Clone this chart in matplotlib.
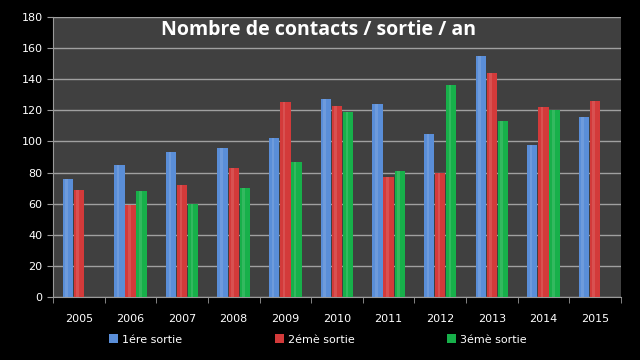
import numpy as np
import matplotlib.pyplot as plt

# données
annees = ['2005', '2006', '2007', '2008', '2009', '2010',
          '2011', '2012', '2013', '2014', '2015']
sortie1 = [76, 85, 93, 96, 102, 127, 124, 105, 155, 98, 116]
sortie2 = [69, 59, 72, 83, 125, 123, 77, 80, 144, 122, 126]
sortie3 = [0, 68, 60, 70, 87, 119, 81, 136, 113, 120, 0]
noms = ['1ére sortie', '2émè sortie', '3émè sortie']
couleurs = ['#5a8ed8', '#d33a3a', '#17b04a']

fig = plt.figure(figsize=(6.4, 3.6), dpi=100, facecolor='black')
ax = fig.add_axes([0.083, 0.175, 0.887, 0.778])
ax.set_facecolor('#404040')

x = np.arange(len(annees))
w = 0.2
for i, (vals, nom, c) in enumerate(zip([sortie1, sortie2, sortie3], noms, couleurs)):
    pos = x + (i - 1) * (w + 0.015)
    ax.bar(pos, vals, width=w, color=c, label=nom, zorder=3)
    # reflet clair au centre des barres
    ax.bar(pos - w * 0.12, vals, width=w * 0.25, color='white', alpha=0.12,
           zorder=4, linewidth=0)

ax.set_xlim(-0.5, len(annees) - 0.5)
ax.set_ylim(0, 180)
ax.set_yticks(range(0, 181, 20))
ax.yaxis.grid(True, color='#a0a0a0', linewidth=1, zorder=1)
ax.set_axisbelow(True)

ax.set_xticks(x)
ax.set_xticklabels(annees)
ax.set_xticks(np.arange(-0.5, len(annees)), minor=True)
ax.tick_params(axis='x', which='major', length=0, pad=12, colors='white', labelsize=8)
ax.tick_params(axis='x', which='minor', length=4, color='#9a9a9a')
ax.tick_params(axis='y', length=4, color='#9a9a9a', colors='white', labelsize=8)

for s in ['top', 'right']:
    ax.spines[s].set_visible(False)
for s in ['left', 'bottom']:
    ax.spines[s].set_color('#9a9a9a')

ax.text(0.467, 0.954, 'Nombre de contacts / sortie / an', transform=ax.transAxes,
        ha='center', va='center', color='white', fontsize=14, fontweight='bold',
        family='Open Sans')

leg = fig.legend(loc='lower center', bbox_to_anchor=(0.497, 0.015), ncol=3,
                 frameon=False, fontsize=8, labelcolor='white',
                 handlelength=0.8, handleheight=0.8, columnspacing=8.3,
                 handletextpad=0.4)

fig.savefig('out.png', facecolor='black')
